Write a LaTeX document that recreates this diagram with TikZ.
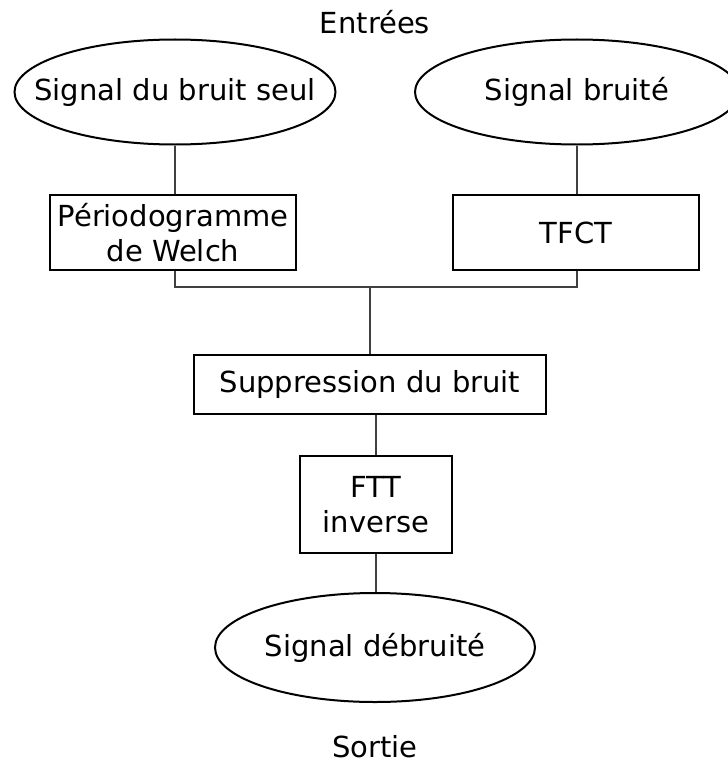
\documentclass[tikz,border=0pt]{standalone}
\usepackage{fontspec}
\setmainfont{DejaVu Sans}
\usetikzlibrary{shapes.geometric}
\tikzset{
  base/.style={font=\fontsize{29bp}{35bp}\selectfont, inner sep=0pt, align=center},
  blockbox/.style={base, draw=black, line width=2bp, rectangle},
  oval/.style={base, draw=black, line width=2bp, ellipse},
  link/.style={draw=black!75, line width=1.1bp},
  label/.style={base}
}
\begin{document}
\begin{tikzpicture}[x=1bp, y=-1bp]
\clip (0,0) rectangle (728,762);
\fill[white] (0,0) rectangle (728,762);
\node[label] (in) at (375,22) {Entrées};
\node[oval, minimum width=321bp, minimum height=105bp] (e1) at (175,92) {\makebox[0pt]{Signal du bruit seul}};
\node[oval, minimum width=324bp, minimum height=105bp] (e2) at (577,92) {\makebox[0pt]{Signal bruité}};
\node[blockbox, minimum width=246bp, minimum height=75bp] (welch) at (173,232.5) {Périodogramme\\de Welch};
\node[blockbox, minimum width=246bp, minimum height=75bp] (tfct) at (576,232.5) {TFCT};
\node[blockbox, minimum width=352bp, minimum height=59bp] (supp) at (370,384.5) {Suppression du bruit};
\node[blockbox, minimum width=152bp, minimum height=97bp] (ftt) at (376,504.5) {FTT\\inverse};
\node[oval, minimum width=320bp, minimum height=109bp] (e3) at (375,647.5) {\makebox[0pt]{Signal débruité}};
\node[label] (out) at (375,747) {Sortie};
\coordinate (j) at (370,287);
\draw[link] (e1.south -| 175,0) -- (welch.north -| 175,0);
\draw[link] (e2.south) -- (tfct.north -| e2.south);
\draw[link] (welch.south -| 175,0) -- (175,287) -- (577,287) -- (tfct.south -| 577,0);
\draw[link] (j) -- (supp.north -| j);
\draw[link] (supp.south -| ftt.north) -- (ftt.north);
\draw[link] (ftt.south) -- (e3.north -| ftt.south);
\end{tikzpicture}
\end{document}
